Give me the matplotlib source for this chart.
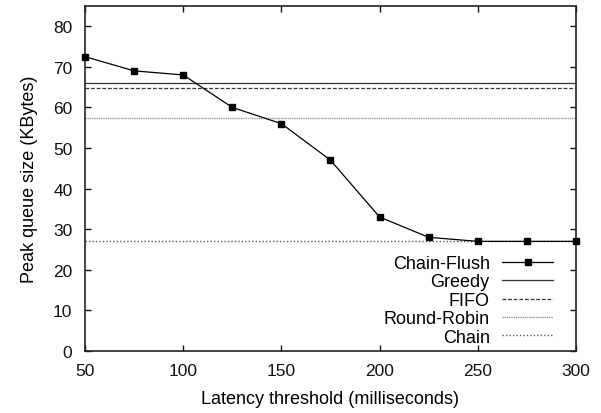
import matplotlib
matplotlib.use('Agg')
import matplotlib.pyplot as plt

plt.rcParams['font.family'] = ['Liberation Sans', 'DejaVu Sans']
plt.rcParams['font.size'] = 12.5

# data
latency = [50, 75, 100, 125, 150, 175, 200, 225, 250, 275, 300]
chain_flush = [72.5, 69, 68, 60, 56, 47, 33, 28, 27, 27, 27]
greedy = 66.0
fifo = 64.8
round_robin = 57.4
chain = 27.0

fig = plt.figure(figsize=(6.01, 4.14), dpi=100)
ax = fig.add_axes([0.1414, 0.1498, 0.8170, 0.8335])

ax.plot(latency, chain_flush, color='black', lw=0.9, marker='s', ms=5,
        label='Chain-Flush', clip_on=False, zorder=5)
ax.axhline(greedy, color='#333333', lw=0.9, ls='-', label='Greedy')
ax.axhline(fifo, color='#333333', lw=0.9, ls=(0, (3, 1.5)), label='FIFO')
ax.axhline(round_robin, color='#999999', lw=1.0, ls=(0, (1, 0.6)),
           label='Round-Robin')
ax.axhline(chain, color='#555555', lw=1.0, ls=(0, (1, 1.5)), label='Chain')

ax.set_xlim(50, 300)
ax.set_ylim(0, 85)
ax.set_xticks([50, 100, 150, 200, 250, 300])
ax.set_yticks(range(0, 90, 10))
ax.tick_params(direction='in', top=True, right=True, length=4, width=1,
               labelsize=12.5, pad=9, colors='#111111')
ax.tick_params(axis='y', pad=9)
for s in ax.spines.values():
    s.set_linewidth(1.2)
    s.set_color('#222222')

ax.set_xlabel('Latency threshold (milliseconds)', fontsize=13, labelpad=8)
ax.set_ylabel('Peak queue size (KBytes)', fontsize=13, labelpad=11)

leg = ax.legend(loc='lower right', bbox_to_anchor=(0.953, 0.015),
                frameon=False, markerfirst=False, fontsize=13,
                handlelength=2.8, labelspacing=0.08, borderpad=0,
                borderaxespad=0, handletextpad=0.7)
for t in leg.get_texts():
    t.set_ha('right')
leg._legend_box.align = 'right'

fig.savefig('out.png', dpi=100)
